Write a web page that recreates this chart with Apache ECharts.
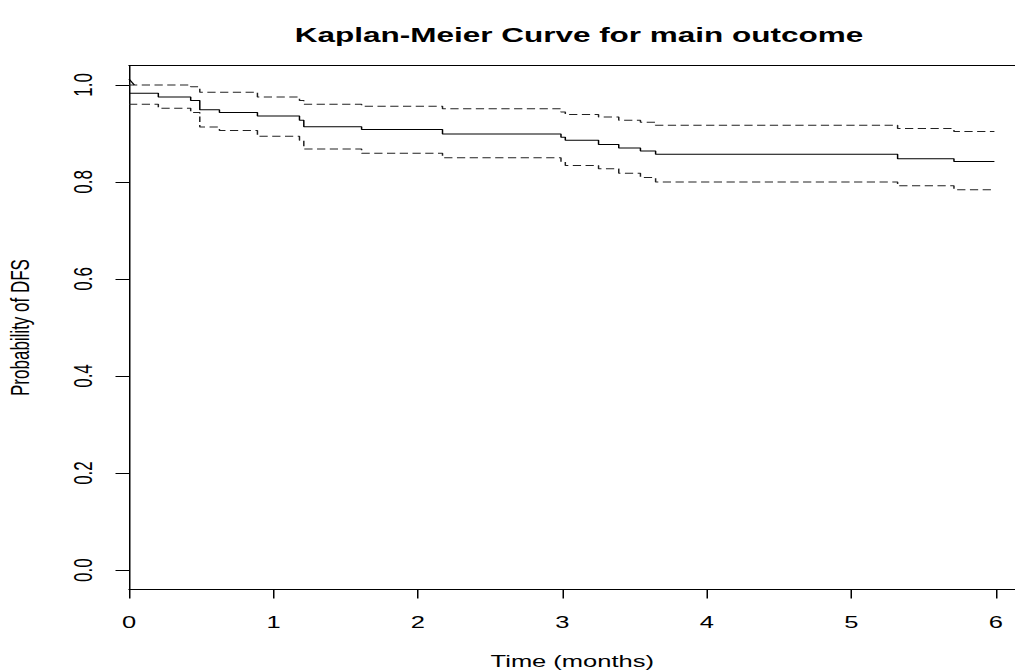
<!DOCTYPE html>
<html>
<head>
<meta charset="utf-8">
<script src="https://cdn.jsdelivr.net/npm/echarts@6/dist/echarts.min.js"></script>
<style>
html,body{margin:0;padding:0;background:#fff;overflow:hidden;}
#wrap{width:1015px;height:672px;overflow:hidden;position:relative;}
#chart{width:676.67px;height:672px;transform:scaleX(1.5);transform-origin:0 0;}
</style>
</head>
<body>
<div id="wrap"><div id="chart"></div></div>
<script>
const titleText = 'Kaplan-Meier Curve for main outcome';
const xName = 'Time (months)';
const yName = 'Probability of DFS';
const xTicks = [0, 1, 2, 3, 4, 5, 6];
const yTicks = [0, 0.2, 0.4, 0.6, 0.8, 1.0];

const times    = [0, 0.203, 0.427, 0.49, 0.626, 0.889, 1.18, 1.21, 1.61, 2.17, 2.99, 3.02, 3.25, 3.39, 3.54, 3.645, 5.32, 5.71, 5.99];
const survival = [0.983, 0.975, 0.968, 0.949, 0.943, 0.936, 0.927, 0.914, 0.908, 0.899, 0.892, 0.886, 0.877, 0.870, 0.864, 0.857, 0.848, 0.842, 0.842];
const upper    = [1.0, 1.0, 0.996, 0.985, 0.985, 0.975, 0.968, 0.960, 0.956, 0.951, 0.944, 0.939, 0.934, 0.927, 0.923, 0.917, 0.910, 0.904, 0.904];
const lower    = [0.960, 0.952, 0.943, 0.913, 0.906, 0.894, 0.886, 0.868, 0.859, 0.850, 0.842, 0.834, 0.827, 0.818, 0.809, 0.800, 0.792, 0.784, 0.784];
const upperStartTimes  = [0, 0.037];
const upperStartValues = [1.012, 1.0];

const pairs = (xs, ys) => xs.map((x, i) => [x, ys[i]]);
const FONT = 'Liberation Sans, Arial, Helvetica, sans-serif';
const X_MAX = 6.136;

const chart = echarts.init(document.getElementById('chart'), null, {renderer: 'svg'});
chart.setOption({
  animation: false,
  backgroundColor: '#fff',
  title: {
    text: titleText,
    left: 381,
    top: 19,
    textAlign: 'center',
    textStyle: {fontFamily: FONT, fontWeight: 'bold', fontSize: 21, color: '#000'}
  },
  grid: {left: 86, right: 0, top: 65.5, bottom: 82.5, containLabel: false, outerBoundsMode: 'none'},
  xAxis: [{
    type: 'value', min: 0, max: X_MAX,
    position: 'bottom',
    name: xName, nameLocation: 'middle', nameGap: 63,
    nameTextStyle: {fontFamily: FONT, fontSize: 17, color: '#000'},
    axisLine: {show: true, onZero: false, lineStyle: {color: '#000', width: 1}},
    axisTick: {show: true, length: 9, customValues: xTicks, lineStyle: {color: '#000'}},
    axisLabel: {customValues: xTicks, margin: 24, fontFamily: FONT, fontSize: 17, color: '#000'},
    splitLine: {show: false}
  }, {
    type: 'value', min: 0, max: X_MAX,
    position: 'top',
    axisLine: {show: true, onZero: false, lineStyle: {color: '#000', width: 1}},
    axisTick: {show: false}, axisLabel: {show: false}, splitLine: {show: false}
  }],
  yAxis: {
    type: 'value', min: -0.04, max: 1.04,
    name: yName, nameLocation: 'middle', nameGap: 64,
    nameTextStyle: {fontFamily: FONT, fontSize: 17, color: '#000'},
    axisLine: {show: true, onZero: false, lineStyle: {color: '#000', width: 1}},
    axisTick: {show: true, length: 9, customValues: yTicks, lineStyle: {color: '#000'}},
    axisLabel: {customValues: yTicks, rotate: 90, margin: 22, fontFamily: FONT, fontSize: 17, color: '#000',
      formatter: v => v.toFixed(1)},
    splitLine: {show: false}
  },
  series: [
    {name: 'Survival', type: 'line', step: 'end', showSymbol: false, data: pairs(times, survival),
     lineStyle: {color: '#000', width: 1}},
    {name: 'Upper 95% CI', type: 'line', step: 'end', showSymbol: false, data: pairs(times, upper),
     lineStyle: {color: '#222', width: 1, type: [5.5, 3]}},
    {name: 'Lower 95% CI', type: 'line', step: 'end', showSymbol: false, data: pairs(times, lower),
     lineStyle: {color: '#222', width: 1, type: [5.5, 3]}},
    {name: 'Upper start', type: 'line', showSymbol: false, data: pairs(upperStartTimes, upperStartValues),
     lineStyle: {color: '#000', width: 1}}
  ]
});
</script>
</body>
</html>
